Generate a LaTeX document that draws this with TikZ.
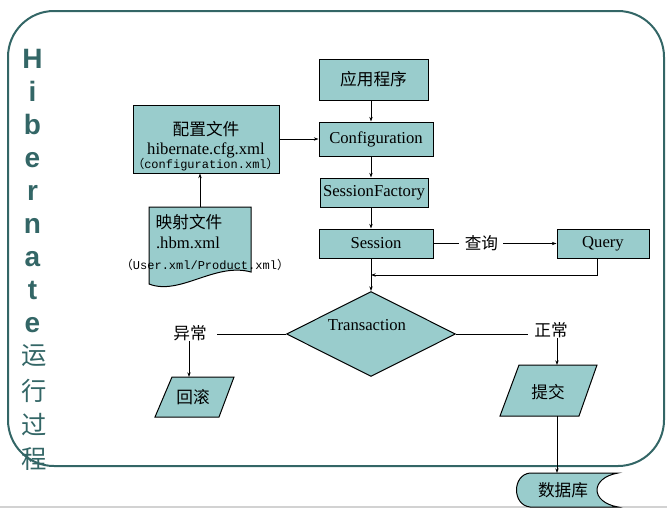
\documentclass[tikz,border=0pt]{standalone}
\usepackage{fontspec}
\setmainfont{Liberation Serif}
\newfontfamily\cjk{Noto Sans CJK SC}
\newfontfamily\monof{Liberation Mono}
\newfontfamily\hsans{Liberation Sans}
\usetikzlibrary{shapes.geometric,arrows.meta}
\definecolor{boxfill}{RGB}{153,204,204}
\definecolor{framec}{RGB}{51,102,102}
\begin{document}
\begin{tikzpicture}[x=0.75pt,y=-0.75pt,
 box/.style={draw=black,fill=boxfill,line width=0.75pt,inner sep=0pt},
 arr/.style={-{Stealth[length=3.5pt,width=2.5pt]},line width=0.6pt},
 ln/.style={line width=0.6pt},
 tx/.style={font=\fontsize{12.5}{15}\selectfont,inner sep=0pt},
 zh/.style={font=\cjk\fontsize{12.5}{15}\selectfont,inner sep=0pt},
 mn/.style={font=\monof\fontsize{9}{10}\selectfont,inner sep=0pt},
 vl/.style={font=\hsans\bfseries\fontsize{21}{21}\selectfont,text=framec,inner sep=0pt,anchor=base},
 vz/.style={font=\cjk\fontsize{19}{19}\selectfont,text=framec,inner sep=0pt}]
\useasboundingbox (0,0) rectangle (667,508);
\draw[gray!35,line width=0.8pt] (0,507) -- (667,507);
% frame
\draw[framec,line width=1.5pt,rounded corners=34.5pt] (8,11) rectangle (664,466);
% vertical title
\node[vl] (h1) at (32.5,68) {H};
\node[vl] (h2) at (32.5,101) {i};
\node[vl] (h3) at (32.5,134) {b};
\node[vl] (h4) at (32.5,167) {e};
\node[vl] (h5) at (32.5,200) {r};
\node[vl] (h6) at (32.5,233) {n};
\node[vl] (h7) at (32.5,266) {a};
\node[vl] (h8) at (32.5,299) {t};
\node[vl] (h9) at (32.5,332) {e};
\node[vz] (z1) at (34,356) {运};
\node[vz] (z2) at (34,391) {行};
\node[vz] (z3) at (34,425) {过};
\node[vz] (z4) at (34,459) {程};
% main column
\node[box,zh,minimum width=81.75pt,minimum height=30.75pt] (app) at (373.5,79.5) {应用程序};
\node[box,tx,minimum width=85.5pt,minimum height=25.5pt] (conf) at (376,139) {Configuration};
\node[box,tx,minimum width=81pt,minimum height=21.75pt] (sf) at (374,192.5) {SessionFactory};
\node[box,tx,minimum width=85.5pt,minimum height=21.75pt] (sess) at (376,243.5) {Session};
\node[box,tx,minimum width=69pt,minimum height=21.75pt] (query) at (603,243.5) {Query};
% config file
\node[box,minimum width=109.5pt,minimum height=51pt] (cfg) at (206,139) {};
\node[zh] (cfgA) at (206,129) {配置文件};
\node[tx] (cfgB) at (206,150) {hibernate.cfg.xml};
\node[mn] (cfgC) at (205.5,165) {{\cjk （}configuration.xml{\cjk ）}};
% mapping document
\draw[box] (149,207) -- (251,207) -- (251,272) .. controls (215,262) and (180,296) .. (149,284) -- cycle;
\coordinate (maptop) at (200,207);
\node[zh] (mapA) at (189,222) {映射文件};
\node[tx] (mapB) at (188,243) {.hbm.xml};
\node[mn] (mapC) at (205,265) {{\cjk （}User.xml/Product.xml{\cjk ）}};
% diamond
\node[box,diamond,minimum width=126.75pt,minimum height=63.75pt] (dia) at (371,334) {};
\node[tx] (diaT) at (367,325) {Transaction};
% connectors
\draw[arr] (app.south -| dia.north) -- (conf.north -| dia.north);
\draw[arr] (cfg.east) -- (conf.west);
\draw[arr] (maptop) -- (maptop |- cfg.south);
\draw[arr] (conf.south -| dia.north) -- (sf.north -| dia.north);
\draw[arr] (sf.south -| dia.north) -- (sess.north -| dia.north);
\draw[arr] (sess.east) -- node[zh,pos=0.39,fill=white,inner xsep=4pt,inner ysep=1pt] (cx) {查询} (query.west);
\coordinate (join) at (371,275);
\draw[arr] ([xshift=-4.5pt]query.south) |- (join);
\draw[arr] (sess.south -| dia.north) -- (dia.north);
% abnormal branch
\node[zh] (yc) at (190,333) {异常};
\draw[ln] (dia.west) -- ([xshift=7.5pt]yc.east |- dia.west);
\draw[box] (172,377) -- (234,377) -- (219,417) -- (155,417) -- cycle;
\coordinate (rbtop) at (189,377);
\node[zh] (rb) at (193,397) {回滚};
\draw[arr] (yc.south -| rbtop) -- (rbtop);
% normal branch
\node[zh] (zc) at (551,330) {正常};
\draw[ln] (dia.east) -- ([xshift=-4.5pt]zc.west |- dia.east);
\draw[box] (519,365) -- (597,365) -- (579,416) -- (500,416) -- cycle;
\coordinate (tjtop) at (557,365);
\coordinate (tjbot) at (557,416);
\node[zh] (tj) at (548,392) {提交};
\draw[arr] (zc.south -| tjtop) -- (tjtop);
% database
\draw[box] (530,473) -- (618,473) .. controls (590,478) and (590,502) .. (618,507) -- (530,507) .. controls (512,505) and (512,475) .. (530,473) -- cycle;
\coordinate (dbtop) at (557,473);
\node[zh] (db) at (563,490) {数据库};
\draw[arr] (tjbot) -- (dbtop);
\end{tikzpicture}
\end{document}
